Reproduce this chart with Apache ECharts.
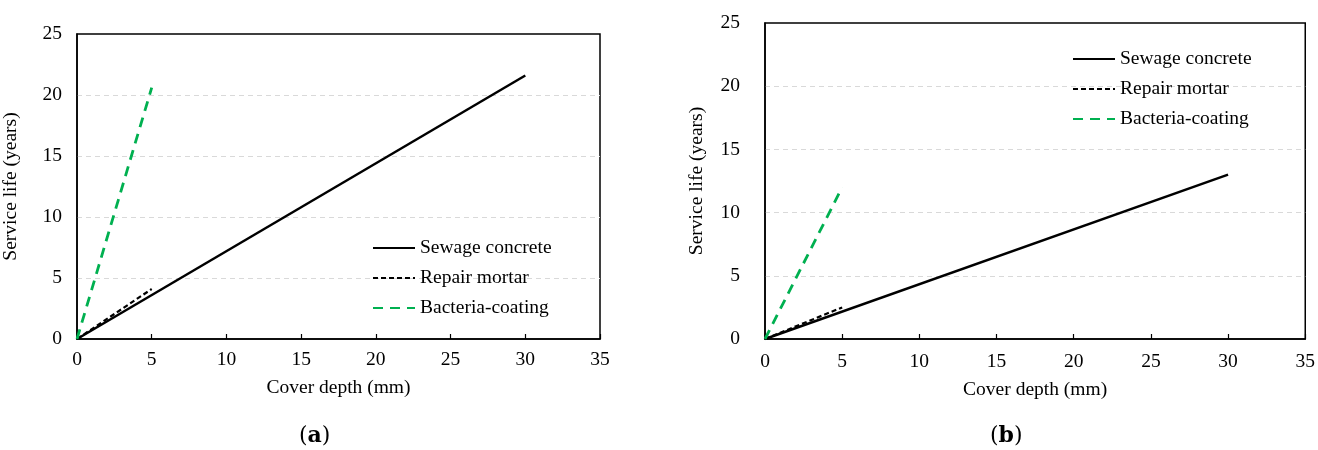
<!DOCTYPE html>
<html><head><meta charset="utf-8">
<script src="https://cdn.jsdelivr.net/npm/echarts@6/dist/echarts.min.js"></script>
<style>html,body{margin:0;padding:0;background:#fff}#c{width:1318px;height:450px}</style>
</head><body><div id="c"></div>
<script>
// Panel (a)
const depthA_sewage = [0, 30];
const lifeA_sewage = [0, 21.6];
const depthA_repair = [0, 5];
const lifeA_repair = [0, 4.1];
const depthA_bact = [0, 5];
const lifeA_bact = [0, 20.6];
// Panel (b)
const depthB_sewage = [0, 30];
const lifeB_sewage = [0, 13.0];
const depthB_repair = [0, 5];
const lifeB_repair = [0, 2.5];
const depthB_bact = [0, 5];
const lifeB_bact = [0, 12.0];

const seriesNames = ['Sewage concrete', 'Repair mortar', 'Bacteria-coating'];
const xTicks = [0, 5, 10, 15, 20, 25, 30, 35];
const yTicks = [0, 5, 10, 15, 20, 25];
const xTitle = 'Cover depth (mm)';
const yTitle = 'Service life (years)';
const panelLabels = ['a', 'b'];

const FONT = '"Liberation Serif", "Times New Roman", serif';
const FS = 19.5;
const zip = (xs, ys) => xs.map((x, i) => [x, ys[i]]);
const styles = [
  {color: '#000', width: 2.5, type: 'solid'},
  {color: '#000', width: 2.2, type: [5, 3]},
  {color: '#00B050', width: 2.8, type: [10, 7]}
];

function xAxis(gi, margin, gap) {
  return {
    gridIndex: gi, type: 'value', min: xTicks[0], max: xTicks[xTicks.length - 1], interval: 5,
    name: xTitle, nameLocation: 'middle', nameGap: gap,
    nameTextStyle: {fontFamily: FONT, fontSize: FS, color: '#000'},
    axisLine: {show: true, lineStyle: {color: '#000', width: 1.5}},
    axisTick: {show: true, inside: true, length: 5, lineStyle: {color: '#000', width: 1.2}},
    axisLabel: {fontFamily: FONT, fontSize: FS, color: '#000', margin: margin},
    splitLine: {show: false}
  };
}
function yAxis(gi, margin, gap) {
  return {
    gridIndex: gi, type: 'value', min: yTicks[0], max: yTicks[yTicks.length - 1], interval: 5,
    name: yTitle, nameLocation: 'middle', nameGap: gap, nameRotate: 90,
    nameTextStyle: {fontFamily: FONT, fontSize: FS, color: '#000'},
    axisLine: {show: true, lineStyle: {color: '#000', width: 1.5}},
    axisTick: {show: false},
    axisLabel: {fontFamily: FONT, fontSize: FS, color: '#000', margin: margin},
    splitLine: {show: true, showMinLine: false, showMaxLine: false,
      lineStyle: {color: '#d9d9d9', type: [5, 4], width: 1}}
  };
}
function mk(name, gi, data, s) {
  return {
    name: name, type: 'line', xAxisIndex: gi, yAxisIndex: gi,
    data: data, symbol: 'none', showSymbol: false, z: 3,
    lineStyle: {color: s.color, width: s.width, type: s.type},
    itemStyle: {color: s.color}
  };
}
function legend(left, top) {
  return {
    show: true, orient: 'vertical', left: left, top: top,
    itemWidth: 42, itemHeight: 14, itemGap: 10,
    data: seriesNames,
    itemStyle: {opacity: 0},
    textStyle: {fontFamily: FONT, fontSize: FS, color: '#000'},
    selectedMode: false
  };
}

const chart = echarts.init(document.getElementById('c'), null, {renderer: 'canvas'});
chart.setOption({
  backgroundColor: '#fff',
  animation: false,
  grid: [
    {left: 75, top: 34, width: 525, height: 305, show: true, borderColor: '#000', borderWidth: 1.5, backgroundColor: 'transparent'},
    {left: 765, top: 23, width: 543, height: 316, show: true, borderColor: '#000', borderWidth: 1.5, backgroundColor: 'transparent'}
  ],
  xAxis: [xAxis(0, 11, 39), xAxis(1, 13, 41)],
  yAxis: [yAxis(0, 15, 56), yAxis(1, 25, 58)],
  legend: [legend(367, 233), legend(1067, 44)],
  series: [
    mk(seriesNames[0], 0, zip(depthA_sewage, lifeA_sewage), styles[0]),
    mk(seriesNames[1], 0, zip(depthA_repair, lifeA_repair), styles[1]),
    mk(seriesNames[2], 0, zip(depthA_bact, lifeA_bact), styles[2]),
    mk(seriesNames[0], 1, zip(depthB_sewage, lifeB_sewage), styles[0]),
    mk(seriesNames[1], 1, zip(depthB_repair, lifeB_repair), styles[1]),
    mk(seriesNames[2], 1, zip(depthB_bact, lifeB_bact), styles[2])
  ],
  graphic: [
    {type: 'text', left: 299, top: 425, style: {
      text: '({b|' + panelLabels[0] + '})', fontFamily: '"DejaVu Serif", serif', fontSize: 22, fill: '#000',
      rich: {b: {fontFamily: '"DejaVu Serif", serif', fontWeight: 'bold', fontSize: 22}}}},
    {type: 'text', left: 990, top: 425, style: {
      text: '({b|' + panelLabels[1] + '})', fontFamily: '"DejaVu Serif", serif', fontSize: 22, fill: '#000',
      rich: {b: {fontFamily: '"DejaVu Serif", serif', fontWeight: 'bold', fontSize: 22}}}}
  ]
});
</script></body></html>
